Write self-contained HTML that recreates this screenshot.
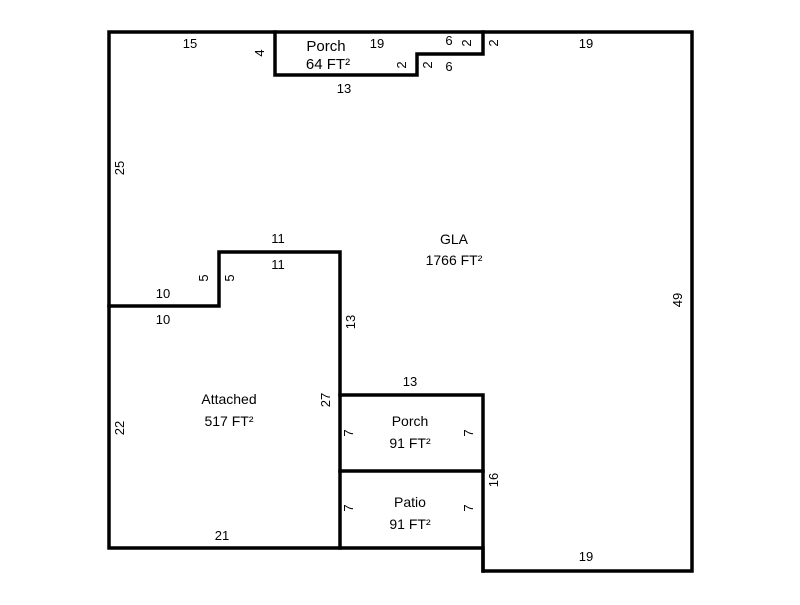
<!DOCTYPE html>
<html><head><style>body{margin:0;background:#fff}</style></head><body>
<svg width="800" height="600" xmlns="http://www.w3.org/2000/svg" font-family="Liberation Sans, Arial, sans-serif" font-size="13" fill="#000">
<g stroke="#000" stroke-width="3.5" fill="none" stroke-linecap="square">
<path d="M109,32 H692 V571 H483 V548 H109 Z"/>
<path d="M275,32 V75 H417 V54 H483 V32"/>
<path d="M109,306 H219 V252 H340 V548"/>
<path d="M340,395 H483 V571"/>
<path d="M340,471 H483"/>
</g>
<g text-anchor="middle">
<text x="190" y="48">15</text>
<text x="377" y="48">19</text>
<text x="449" y="45">6</text>
<text x="449" y="71">6</text>
<text x="586" y="48">19</text>
<text x="344" y="93">13</text>
<text x="326" y="51" font-size="15">Porch</text>
<text x="328" y="69" font-size="15">64 FT²</text>
<text x="278" y="243">11</text>
<text x="278" y="269">11</text>
<text x="163" y="298">10</text>
<text x="163" y="324">10</text>
<g font-size="14">
<text x="454" y="244">GLA</text>
<text x="454" y="265">1766 FT²</text>
<text x="229" y="404">Attached</text>
<text x="229" y="426">517 FT²</text>
<text x="410" y="426">Porch</text>
<text x="410" y="448">91 FT²</text>
<text x="410" y="507">Patio</text>
<text x="410" y="529">91 FT²</text>
</g>
<text x="410" y="386">13</text>
<text x="222" y="540">21</text>
<text x="586" y="561">19</text>
<text transform="translate(264,53) rotate(-90)">4</text>
<text transform="translate(124,168) rotate(-90)">25</text>
<text transform="translate(208,278) rotate(-90)">5</text>
<text transform="translate(234,278) rotate(-90)">5</text>
<text transform="translate(355,322) rotate(-90)">13</text>
<text transform="translate(330,400) rotate(-90)">27</text>
<text transform="translate(124,428) rotate(-90)">22</text>
<text transform="translate(353,433) rotate(-90)">7</text>
<text transform="translate(473,433) rotate(-90)">7</text>
<text transform="translate(353,508) rotate(-90)">7</text>
<text transform="translate(473,508) rotate(-90)">7</text>
<text transform="translate(498,480) rotate(-90)">16</text>
<text transform="translate(682,300) rotate(-90)">49</text>
<text transform="translate(406,65) rotate(-90)">2</text>
<text transform="translate(432,65) rotate(-90)">2</text>
<text transform="translate(471,43) rotate(-90)">2</text>
<text transform="translate(498,43) rotate(-90)">2</text>
</g>
</svg>
</body></html>
